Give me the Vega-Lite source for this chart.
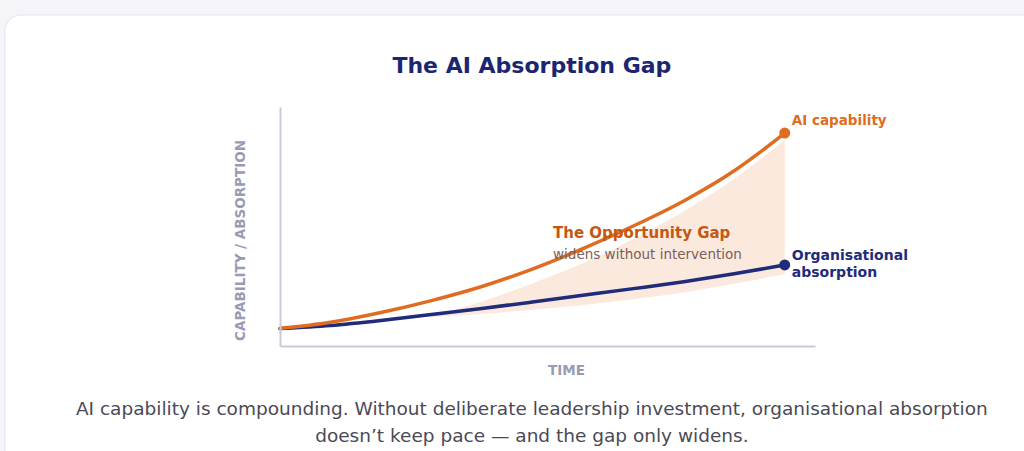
{
  "$schema": "https://vega.github.io/schema/vega-lite/v6.json",
  "width": 535,
  "height": 239,
  "autosize": {"type": "none"},
  "padding": {"left": 280, "top": 107, "right": 209, "bottom": 105},
  "datasets": {
    "curves": [
      {"t": 0, "v": 7.3, "s": "cap"}, {"t": 10, "v": 9.9, "s": "cap"}, {"t": 20, "v": 14.0, "s": "cap"},
      {"t": 30, "v": 19.0, "s": "cap"}, {"t": 40, "v": 24.9, "s": "cap"}, {"t": 50, "v": 32.2, "s": "cap"},
      {"t": 60, "v": 40.7, "s": "cap"}, {"t": 70, "v": 50.2, "s": "cap"}, {"t": 80, "v": 60.7, "s": "cap"},
      {"t": 90, "v": 73.3, "s": "cap"}, {"t": 95, "v": 80.9, "s": "cap"}, {"t": 100, "v": 89.1, "s": "cap"},
      {"t": 0, "v": 7.3, "s": "abs"}, {"t": 10, "v": 8.6, "s": "abs"}, {"t": 20, "v": 10.7, "s": "abs"},
      {"t": 30, "v": 13.2, "s": "abs"}, {"t": 40, "v": 15.7, "s": "abs"}, {"t": 50, "v": 18.4, "s": "abs"},
      {"t": 60, "v": 21.2, "s": "abs"}, {"t": 70, "v": 24.0, "s": "abs"}, {"t": 80, "v": 26.9, "s": "abs"},
      {"t": 90, "v": 30.2, "s": "abs"}, {"t": 100, "v": 33.9, "s": "abs"}
    ],
    "gap": [
      {"t": 30.0, "hi": 12.4, "lo": 12.0},
      {"t": 40.0, "hi": 18.6, "lo": 13.4},
      {"t": 50.0, "hi": 26.2, "lo": 15.2},
      {"t": 60.0, "hi": 34.6, "lo": 17.2},
      {"t": 70.0, "hi": 44.8, "lo": 19.6},
      {"t": 80.0, "hi": 56.4, "lo": 22.4},
      {"t": 90.0, "hi": 70.0, "lo": 26.0},
      {"t": 100, "hi": 86.2, "lo": 30.1}
    ]
  },
  "layer": [
    {
      "data": {"values": [{}]},
      "mark": {"type": "rect", "fill": "#ffffff", "stroke": "#e3e3ee", "strokeWidth": 1, "cornerRadius": 16},
      "encoding": {
        "x": {"datum": -54.5, "type": "quantitative", "scale": {"domain": [0, 106], "nice": false, "zero": false}, "axis": {"title": "TIME", "zindex": 1}},
        "x2": {"datum": 152},
        "y": {"datum": 138.5, "type": "quantitative", "scale": {"domain": [0, 100], "nice": false, "zero": false}, "axis": {"title": "CAPABILITY / ABSORPTION", "zindex": 1}},
        "y2": {"datum": -60}
      }
    },
    {
      "data": {"name": "gap"},
      "mark": {"type": "area", "color": "#fbe9de", "interpolate": "monotone"},
      "encoding": {
        "x": {"field": "t", "type": "quantitative", "scale": {"domain": [0, 106], "nice": false, "zero": false}, "axis": {"title": "TIME", "zindex": 1}},
        "y": {"field": "hi", "type": "quantitative", "scale": {"domain": [0, 100], "nice": false, "zero": false}, "axis": {"title": "CAPABILITY / ABSORPTION", "zindex": 1}},
        "y2": {"field": "lo"}
      }
    },
    {
      "data": {"name": "curves"},
      "transform": [{"filter": "datum.s === 'abs'"}],
      "mark": {"type": "line", "color": "#1f2b7b", "strokeWidth": 3.5, "interpolate": "monotone", "strokeCap": "round"},
      "encoding": {
        "x": {"field": "t", "type": "quantitative", "scale": {"domain": [0, 106], "nice": false, "zero": false}, "axis": {"title": "TIME", "zindex": 1}},
        "y": {"field": "v", "type": "quantitative", "scale": {"domain": [0, 100], "nice": false, "zero": false}, "axis": {"title": "CAPABILITY / ABSORPTION", "zindex": 1}}
      }
    },
    {
      "data": {"name": "curves"},
      "transform": [{"filter": "datum.s === 'cap'"}],
      "mark": {"type": "line", "color": "#df6c21", "strokeWidth": 3.5, "interpolate": "monotone", "strokeCap": "round"},
      "encoding": {
        "x": {"field": "t", "type": "quantitative", "scale": {"domain": [0, 106], "nice": false, "zero": false}, "axis": {"title": "TIME", "zindex": 1}},
        "y": {"field": "v", "type": "quantitative", "scale": {"domain": [0, 100], "nice": false, "zero": false}, "axis": {"title": "CAPABILITY / ABSORPTION", "zindex": 1}}
      }
    },
    {
      "data": {"name": "curves"},
      "transform": [{"filter": "datum.t === 100"}],
      "mark": {"type": "point", "filled": true, "size": 120, "opacity": 1},
      "encoding": {
        "x": {"field": "t", "type": "quantitative", "scale": {"domain": [0, 106], "nice": false, "zero": false}, "axis": {"title": "TIME", "zindex": 1}},
        "y": {"field": "v", "type": "quantitative", "scale": {"domain": [0, 100], "nice": false, "zero": false}, "axis": {"title": "CAPABILITY / ABSORPTION", "zindex": 1}},
        "color": {"field": "s", "type": "nominal", "scale": {"domain": ["cap", "abs"], "range": ["#df6c21", "#1f2b7b"]}, "legend": null}
      }
    },
    {
      "data": {"values": [{}]},
      "mark": {"type": "text", "font": "DejaVu Sans", "fontSize": 22, "fontWeight": "bold", "color": "#1c2670", "align": "center", "baseline": "middle", "text": "The AI Absorption Gap"},
      "encoding": {
        "x": {"datum": 49.9, "type": "quantitative", "scale": {"domain": [0, 106], "nice": false, "zero": false}, "axis": {"title": "TIME", "zindex": 1}},
        "y": {"datum": 117.2, "type": "quantitative", "scale": {"domain": [0, 100], "nice": false, "zero": false}, "axis": {"title": "CAPABILITY / ABSORPTION", "zindex": 1}}
      }
    },
    {
      "data": {"values": [{}]},
      "mark": {"type": "text", "font": "DejaVu Sans", "fontSize": 18.5, "color": "#4a4a55", "align": "center", "baseline": "middle", "text": "AI capability is compounding. Without deliberate leadership investment, organisational absorption"},
      "encoding": {
        "x": {"datum": 49.9, "type": "quantitative", "scale": {"domain": [0, 106], "nice": false, "zero": false}, "axis": {"title": "TIME", "zindex": 1}},
        "y": {"datum": -26.4, "type": "quantitative", "scale": {"domain": [0, 100], "nice": false, "zero": false}, "axis": {"title": "CAPABILITY / ABSORPTION", "zindex": 1}}
      }
    },
    {
      "data": {"values": [{}]},
      "mark": {"type": "text", "font": "DejaVu Sans", "fontSize": 18.5, "color": "#4a4a55", "align": "center", "baseline": "middle", "text": "doesn’t keep pace — and the gap only widens."},
      "encoding": {
        "x": {"datum": 49.9, "type": "quantitative", "scale": {"domain": [0, 106], "nice": false, "zero": false}, "axis": {"title": "TIME", "zindex": 1}},
        "y": {"datum": -37.7, "type": "quantitative", "scale": {"domain": [0, 100], "nice": false, "zero": false}, "axis": {"title": "CAPABILITY / ABSORPTION", "zindex": 1}}
      }
    },
    {
      "data": {"values": [{}]},
      "mark": {"type": "text", "font": "DejaVu Sans", "fontSize": 13.5, "fontWeight": "bold", "color": "#df6c21", "align": "left", "baseline": "middle", "text": "AI capability"},
      "encoding": {
        "x": {"datum": 101.4, "type": "quantitative", "scale": {"domain": [0, 106], "nice": false, "zero": false}, "axis": {"title": "TIME", "zindex": 1}},
        "y": {"datum": 94.1, "type": "quantitative", "scale": {"domain": [0, 100], "nice": false, "zero": false}, "axis": {"title": "CAPABILITY / ABSORPTION", "zindex": 1}}
      }
    },
    {
      "data": {"values": [{}]},
      "mark": {"type": "text", "font": "DejaVu Sans", "fontSize": 14, "fontWeight": "bold", "color": "#1f2b7b", "align": "left", "baseline": "middle", "text": "Organisational"},
      "encoding": {
        "x": {"datum": 101.4, "type": "quantitative", "scale": {"domain": [0, 106], "nice": false, "zero": false}, "axis": {"title": "TIME", "zindex": 1}},
        "y": {"datum": 37.7, "type": "quantitative", "scale": {"domain": [0, 100], "nice": false, "zero": false}, "axis": {"title": "CAPABILITY / ABSORPTION", "zindex": 1}}
      }
    },
    {
      "data": {"values": [{}]},
      "mark": {"type": "text", "font": "DejaVu Sans", "fontSize": 14, "fontWeight": "bold", "color": "#1f2b7b", "align": "left", "baseline": "middle", "text": "absorption"},
      "encoding": {
        "x": {"datum": 101.4, "type": "quantitative", "scale": {"domain": [0, 106], "nice": false, "zero": false}, "axis": {"title": "TIME", "zindex": 1}},
        "y": {"datum": 30.5, "type": "quantitative", "scale": {"domain": [0, 100], "nice": false, "zero": false}, "axis": {"title": "CAPABILITY / ABSORPTION", "zindex": 1}}
      }
    },
    {
      "data": {"values": [{}]},
      "mark": {"type": "text", "font": "DejaVu Sans", "fontSize": 15, "fontWeight": "bold", "color": "#c45812", "align": "left", "baseline": "middle", "text": "The Opportunity Gap"},
      "encoding": {
        "x": {"datum": 54.1, "type": "quantitative", "scale": {"domain": [0, 106], "nice": false, "zero": false}, "axis": {"title": "TIME", "zindex": 1}},
        "y": {"datum": 47.3, "type": "quantitative", "scale": {"domain": [0, 100], "nice": false, "zero": false}, "axis": {"title": "CAPABILITY / ABSORPTION", "zindex": 1}}
      }
    },
    {
      "data": {"values": [{}]},
      "mark": {"type": "text", "font": "DejaVu Sans", "fontSize": 13.5, "color": "#7a6055", "align": "left", "baseline": "middle", "text": "widens without intervention"},
      "encoding": {
        "x": {"datum": 54.1, "type": "quantitative", "scale": {"domain": [0, 106], "nice": false, "zero": false}, "axis": {"title": "TIME", "zindex": 1}},
        "y": {"datum": 38.1, "type": "quantitative", "scale": {"domain": [0, 100], "nice": false, "zero": false}, "axis": {"title": "CAPABILITY / ABSORPTION", "zindex": 1}}
      }
    }
  ],
  "config": {
    "background": "#f4f4f9",
    "view": {"stroke": null},
    "axis": {
      "grid": false, "ticks": false, "labels": false,
      "domainColor": "#cacadb", "domainWidth": 2,
      "titleFont": "DejaVu Sans", "titleFontWeight": "bold", "titleFontSize": 13.5,
      "titleColor": "#9a9ab4"
    },
    "axisX": {"titlePadding": 17, "titleX": 286},
    "axisY": {"titlePadding": 33, "titleY": 133}
  }
}
